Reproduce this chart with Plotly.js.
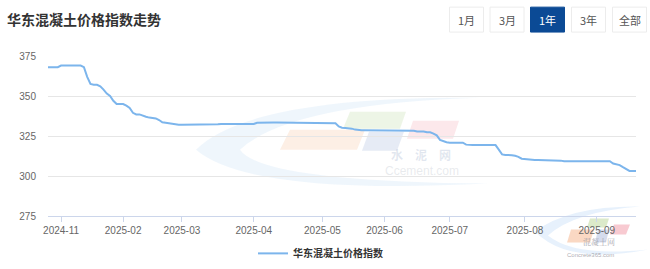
<!DOCTYPE html>
<html>
<head>
<meta charset="utf-8">
<script src="https://cdn.plot.ly/plotly-3.0.1.min.js"></script>
<style>html,body{margin:0;padding:0;background:#fff;}#chart{width:650px;height:269px;}</style>
</head>
<body>
<div id="chart"></div>
<script>
// ---- data ----
const chartTitle = '华东混凝土价格指数走势';
const seriesName = '华东混凝土价格指数';
const rangeButtons = ['1月', '3月', '1年', '3年', '全部'];
const activeButton = '1年';

const datesOct = ['2024-10-28','2024-10-29','2024-10-30','2024-10-31'];
const datesNov = ['2024-11-01','2024-11-04','2024-11-05','2024-11-06','2024-11-07','2024-11-08','2024-11-11','2024-11-12','2024-11-13','2024-11-14','2024-11-15','2024-11-18','2024-11-19','2024-11-20','2024-11-21','2024-11-22','2024-11-25','2024-11-26','2024-11-27'];
const datesFeb = ['2025-02-05','2025-02-06','2025-02-07','2025-02-10','2025-02-11','2025-02-12','2025-02-13','2025-02-14','2025-02-17','2025-02-18','2025-02-19','2025-02-20','2025-02-21','2025-02-24','2025-02-25','2025-02-26','2025-02-27','2025-02-28'];
const datesMar = ['2025-03-01','2025-03-03','2025-03-04','2025-03-05','2025-03-06','2025-03-07','2025-03-10','2025-03-11','2025-03-12','2025-03-13','2025-03-14','2025-03-17','2025-03-18','2025-03-19','2025-03-20','2025-03-21','2025-03-24','2025-03-25','2025-03-26','2025-03-27','2025-03-28','2025-03-31'];
const datesApr = ['2025-04-01','2025-04-02','2025-04-03','2025-04-07','2025-04-08','2025-04-09','2025-04-10','2025-04-11','2025-04-14','2025-04-15','2025-04-16','2025-04-17','2025-04-18','2025-04-21','2025-04-22','2025-04-23','2025-04-24','2025-04-25','2025-04-28','2025-04-29','2025-04-30'];
const datesMay = ['2025-05-06','2025-05-07','2025-05-08','2025-05-09','2025-05-12','2025-05-13','2025-05-14','2025-05-15','2025-05-16','2025-05-19','2025-05-20','2025-05-21','2025-05-22','2025-05-23','2025-05-26','2025-05-27','2025-05-28','2025-05-29','2025-05-30'];
const datesJun = ['2025-06-03','2025-06-04','2025-06-05','2025-06-06','2025-06-09','2025-06-10','2025-06-11','2025-06-12','2025-06-13','2025-06-16','2025-06-17','2025-06-18','2025-06-19','2025-06-20','2025-06-23','2025-06-24','2025-06-25','2025-06-26','2025-06-27','2025-06-30'];
const datesJul = ['2025-07-01','2025-07-02','2025-07-03','2025-07-04','2025-07-07','2025-07-08','2025-07-09','2025-07-10','2025-07-11','2025-07-14','2025-07-15','2025-07-16','2025-07-17','2025-07-18','2025-07-21','2025-07-22','2025-07-23','2025-07-24','2025-07-25','2025-07-28','2025-07-29','2025-07-30','2025-07-31'];
const datesAug = ['2025-08-01','2025-08-04','2025-08-05','2025-08-06','2025-08-07','2025-08-08','2025-08-11','2025-08-12','2025-08-13','2025-08-14','2025-08-15','2025-08-18','2025-08-19','2025-08-20','2025-08-21','2025-08-22','2025-08-25','2025-08-26','2025-08-27','2025-08-28','2025-08-29','2025-08-30'];
const datesSep = ['2025-09-01','2025-09-02','2025-09-03','2025-09-04','2025-09-05','2025-09-08','2025-09-09','2025-09-10','2025-09-11','2025-09-12','2025-09-15','2025-09-16','2025-09-17'];

const indexValues = [
  368,368,368,368, 369,369,369,369,369,369,369,
  368,362,357.5,357,357,356,354,351.5,350,347,345,345,345,344,342.5,339.5,338.5,338.5,337.5,337,336.5,336.2,336,335,333.6,333.3,333,332.5,332,
  332,332,332,332,332,332,332,332,332,332,332,332,
  332.3,
  332.5,332.5,332.5,332.5,332.5,332.5,332.5,332.5,332.5,332.5,332.5,
  333.3,
  333.4,333.4,333.4,333.4,333.4,333.4,333.4,333.4,333.4,333.4,333.4,333.4,333.4,
  333,333,333,333,333,333,333,333,333,333,333,
  331,330.2,330,330,329.6,329,
  328.6,328.6,328.6,328.6,328.6,328.6,328.6,328.6,328.6,328.6,328.6,328.6,328.6,328.6,
  328.3,328.3,328.3,328.3,
  327.8,327.8,327.8,
  327.3,327.3,
  326.5,325.4,322.6,321.6,321.1,
  320.8,320.8,320.8,320.8,320.8,
  319.6,
  319.3,319.3,319.3,319.3,319.3,319.3,319.3,319.3,319.3,
  316.5,313.5,313.2,313.2,313,312.6,312,310.8,310.5,310.2,
  310,310,310,310,310,
  309.6,309.6,309.6,309.6,309.6,
  309.2,309.2,309.2,309.2,309.2,309.2,309.2,309.2,309.2,309.2,309.2,309.2,309.2,309.2,309.2,
  307.8,307.4,306.8,305.5,304.2,
  303.2,303.2,303.2
];

const tickDates = ['2024-11-01','2025-02-05','2025-03-01','2025-04-01','2025-05-06','2025-06-03','2025-07-01','2025-08-01','2025-09-01'];
const tickLabels = ['2024-11','2025-02','2025-03','2025-04','2025-05','2025-06','2025-07','2025-08','2025-09'];
const yTicks = [275, 300, 325, 350, 375];

// ---- build ----
const dates = [].concat(datesOct, datesNov, datesFeb, datesMar, datesApr, datesMay, datesJun, datesJul, datesAug, datesSep);

const W = 650, H = 269;
const M = {l: 48, r: 14, t: 56, b: 52.5, autoexpand: false};
const PW = W - M.l - M.r, PH = H - M.t - M.b;
const px = x => (x - M.l) / PW;
const py = y => (H - M.b - y) / PH;
const P = (x, y) => px(x).toFixed(4) + ',' + py(y).toFixed(4);
function poly(pts) { return 'M ' + pts.map(p => P(p[0], p[1])).join(' L ') + ' Z'; }

const shapes = [];
const annotations = [];
// watermark (水泥网)
shapes.push({type:'path', xref:'paper', yref:'paper', layer:'below', line:{width:0}, fillcolor:'rgba(225,238,250,0.55)',
  path:'M ' + P(196,150) + ' Q ' + P(250,96) + ' ' + P(480,98) + ' Q ' + P(290,104) + ' ' + P(240,150) + ' Q ' + P(262,182) + ' ' + P(488,184) + ' Q ' + P(250,196) + ' ' + P(196,150) + ' Z'});
shapes.push({type:'path', xref:'paper', yref:'paper', layer:'below', line:{width:0}, fillcolor:'rgba(250,215,190,0.4)', path: poly([[290,130],[365,130],[357,150],[280,150]])});
shapes.push({type:'path', xref:'paper', yref:'paper', layer:'below', line:{width:0}, fillcolor:'rgba(215,232,200,0.45)', path: poly([[350,112],[406,112],[400,129],[343,129]])});
shapes.push({type:'path', xref:'paper', yref:'paper', layer:'below', line:{width:0}, fillcolor:'rgba(205,215,235,0.5)', path: poly([[369,132],[404,132],[397,151],[362,151]])});
shapes.push({type:'path', xref:'paper', yref:'paper', layer:'below', line:{width:0}, fillcolor:'rgba(248,205,210,0.45)', path: poly([[413,121],[459,121],[453,139],[407,139]])});
annotations.push({xref:'paper', yref:'paper', x:px(421), y:py(155), text:'水　泥　网', showarrow:false, font:{size:12, color:'rgba(170,185,210,0.35)', family:'Noto Sans CJK SC', weight:700}});
annotations.push({xref:'paper', yref:'paper', x:px(422), y:py(180), text:'Ccement.com', showarrow:false, font:{size:12, color:'rgba(190,195,205,0.35)', family:'Liberation Sans'}});
// watermark (混凝土网)
shapes.push({type:'path', xref:'paper', yref:'paper', layer:'below', line:{width:0}, fillcolor:'rgba(215,232,250,0.6)',
  path:'M ' + P(535,232) + ' Q ' + P(570,206) + ' ' + P(640,207) + ' Q ' + P(575,212) + ' ' + P(548,236) + ' Q ' + P(575,258) + ' ' + P(648,250) + ' Q ' + P(568,266) + ' ' + P(535,232) + ' Z'});
shapes.push({type:'path', xref:'paper', yref:'paper', layer:'below', line:{width:0}, fillcolor:'rgba(205,225,180,0.7)', path: poly([[590,219],[609,219],[606,228],[587,228]])});
shapes.push({type:'path', xref:'paper', yref:'paper', layer:'below', line:{width:0}, fillcolor:'rgba(245,180,190,0.7)', path: poly([[614,225],[630,225],[626,235],[610,235]])});
shapes.push({type:'path', xref:'paper', yref:'paper', layer:'below', line:{width:0}, fillcolor:'rgba(248,200,170,0.7)', path: poly([[571,230],[594,230],[590,243],[567,243]])});
shapes.push({type:'path', xref:'paper', yref:'paper', layer:'below', line:{width:0}, fillcolor:'rgba(195,205,230,0.7)', path: poly([[598,230],[609,230],[606,243],[595,243]])});
annotations.push({xref:'paper', yref:'paper', x:px(617), y:py(250), text:'混凝土网', showarrow:false, font:{size:8, color:'rgba(150,150,160,0.8)', family:'Noto Serif CJK SC, Noto Sans CJK SC'}});
annotations.push({xref:'paper', yref:'paper', x:px(616), y:py(261), text:'Concrete365.com', showarrow:false, font:{size:6, color:'rgba(150,150,160,0.8)', family:'Liberation Sans'}});

// range buttons
const btnX = [449.5, 490, 530.5, 571.5, 612.5];
const btnW = 34, btnTop = 7, btnBot = 32;
rangeButtons.forEach((b, i) => {
  const active = b === activeButton;
  shapes.push({type:'rect', xref:'paper', yref:'paper', x0:px(btnX[i]), x1:px(btnX[i] + btnW), y0:py(btnBot), y1:py(btnTop),
    fillcolor: active ? '#0b4a95' : '#ffffff', line:{color: active ? '#0b4a95' : '#ececec', width:1}});
  annotations.push({xref:'paper', yref:'paper', x:px(btnX[i] + btnW / 2), y:py((btnTop + btnBot) / 2), text:b, showarrow:false,
    xanchor:'center', yanchor:'middle', font:{size:11, color: active ? '#ffffff' : '#555555', family:'Noto Sans CJK SC'}});
});

const trace = {
  x: dates, y: indexValues, type:'scatter', mode:'lines', name: seriesName,
  line:{color:'#7cb5ec', width:2}, hoverinfo:'x+y'
};

const layout = {
  width: W, height: H, margin: M, paper_bgcolor:'#ffffff', plot_bgcolor:'rgba(0,0,0,0)',
  font:{family:'Liberation Sans, Noto Sans CJK SC', color:'#666666', size:10},
  title:{text: chartTitle, xref:'container', yref:'container', x: 7/W, xanchor:'left', y: 1 - 20.5/H, yanchor:'middle',
    font:{size:14, color:'#333333', family:'Noto Sans CJK SC', weight:700}},
  xaxis:{type:'category', range:[0, dates.length - 1], tickmode:'array', tickvals: tickDates, ticktext: tickLabels,
    showgrid:false, showline:true, linecolor:'#ccd6eb', linewidth:1, ticks:'outside', ticklen:5, tickcolor:'#ccd6eb',
    tickfont:{size:10, color:'#666666'}, zeroline:false, fixedrange:true, automargin:false},
  yaxis:{range:[275, 375], tickmode:'array', tickvals: yTicks, showgrid:true, gridcolor:'#e6e6e6', gridwidth:1,
    showline:false, zeroline:false, ticks:'', ticklabelstandoff:11, tickfont:{size:10, color:'#666666'}, fixedrange:true, automargin:false},
  showlegend:true,
  legend:{orientation:'h', x: px(253), xanchor:'left', y: py(254), yanchor:'middle', itemwidth:30,
    font:{size:10, color:'#333333', family:'Noto Sans CJK SC', weight:700}, bgcolor:'rgba(0,0,0,0)'},
  shapes: shapes, annotations: annotations
};

Plotly.newPlot('chart', [trace], layout, {displayModeBar:false, staticPlot:true});
</script>
</body>
</html>
